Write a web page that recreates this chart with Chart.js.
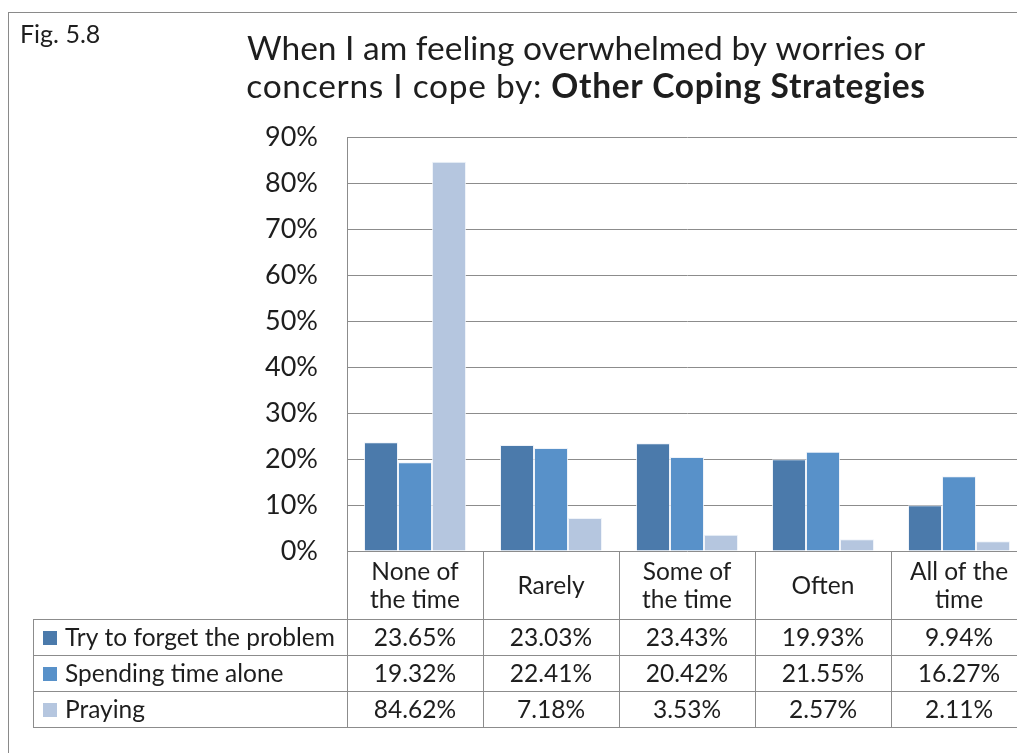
<!DOCTYPE html>
<html>
<head>
<meta charset="utf-8">
<script src="https://cdn.jsdelivr.net/npm/chart.js@4.4.0/dist/chart.umd.min.js"></script>
<style>
  html, body { margin: 0; padding: 0; background: #fff; overflow: hidden; }
  #wrap { width: 1100px; height: 753px; }
</style>
</head>
<body>
<div id="wrap"><canvas id="chart" width="1100" height="753"></canvas></div>
<script>
// Global font settings
const FONT = 'Lato, "Open Sans", sans-serif';
Chart.defaults.font.family = FONT;
Chart.defaults.color = '#222';

// Data
const CATEGORIES = [['None of', 'the time'], ['Rarely'], ['Some of', 'the time'], ['Often'], ['All of the', 'time']];
const SERIES_NAMES = ['Try to forget the problem', 'Spending time alone', 'Praying'];
const FORGET = [23.65, 23.03, 23.43, 19.93, 9.94];
const ALONE = [19.32, 22.41, 20.42, 21.55, 16.27];
const PRAYING = [84.62, 7.18, 3.53, 2.57, 2.11];
const TITLE_LINE1 = 'When I am feeling overwhelmed by worries or';
const TITLE_LINE2A = 'concerns I cope by: ';
const TITLE_LINE2B = 'Other Coping Strategies';
const FIG_LABEL = 'Fig. 5.8';

const COLORS = {
    DARK: '#4b7aab',
    MID: '#5891c9',
    LIGHT: '#b5c6df',
    GRID: '#8c8c8c',
    TEXT: '#1e1e1e'
};
const SERIES_DATA = [FORGET, ALONE, PRAYING];
const SERIES_COLORS = [COLORS.DARK, COLORS.MID, COLORS.LIGHT];

// Row positions of the data table under the plot
const TABLE = { left: 33, headerBottom: 619, rowH: 36 };
const TEXT_SIZE = 24.5;

// Plugin: frame, title and the data table
const decorations = {
    id: 'decorations',
    beforeDraw(chart) {
        const ctx = chart.ctx;
        ctx.save();
        ctx.strokeStyle = '#8a8a8a';
        ctx.lineWidth = 1;
        ctx.strokeRect(8.5, 12.5, 1400, 900);
        ctx.restore();
    },
    afterDraw(chart) {
        const ctx = chart.ctx;
        const area = chart.chartArea;
        const x = chart.scales.x;
        ctx.save();

        // Fig label
        ctx.fillStyle = COLORS.TEXT;
        ctx.textBaseline = 'alphabetic';
        ctx.textAlign = 'left';
        ctx.font = '25px ' + FONT;
        ctx.fillText(FIG_LABEL, 20, 43);

        // Title
        ctx.font = '33.5px ' + FONT;
        ctx.textAlign = 'center';
        ctx.fillText(TITLE_LINE1, 586, 60);
        ctx.textAlign = 'left';
        ctx.letterSpacing = '0.7px';  // second line is a bit wider in the original
        const wA = ctx.measureText(TITLE_LINE2A).width;
        ctx.font = 'bold 33.5px ' + FONT;
        const wB = ctx.measureText(TITLE_LINE2B).width;
        const start = 586 - (wA + wB) / 2;
        ctx.font = '33.5px ' + FONT;
        ctx.fillText(TITLE_LINE2A, start, 98);
        ctx.font = 'bold 33.5px ' + FONT;
        ctx.fillText(TITLE_LINE2B, start + wA, 98);
        ctx.letterSpacing = '0px';

        // Table lines
        const top = area.bottom;
        const rowTops = [TABLE.headerBottom];
        for (let i = 1; i <= SERIES_NAMES.length; i++) rowTops.push(TABLE.headerBottom + i * TABLE.rowH);
        const bottom = rowTops[rowTops.length - 1];
        const colW = x.getPixelForValue(1) - x.getPixelForValue(0);
        const bounds = CATEGORIES.map((c, i) => x.getPixelForValue(i) - colW / 2);
        bounds.push(x.getPixelForValue(CATEGORIES.length - 1) + colW / 2);

        ctx.strokeStyle = COLORS.GRID;
        ctx.lineWidth = 1;
        ctx.beginPath();
        rowTops.forEach(y => {
            ctx.moveTo(TABLE.left, Math.round(y) + 0.5);
            ctx.lineTo(bounds[bounds.length - 1], Math.round(y) + 0.5);
        });
        ctx.moveTo(TABLE.left + 0.5, rowTops[0]);
        ctx.lineTo(TABLE.left + 0.5, bottom);
        bounds.forEach(bx => {
            ctx.moveTo(Math.round(bx) + 0.5, top);
            ctx.lineTo(Math.round(bx) + 0.5, bottom);
        });
        ctx.stroke();

        // Header labels
        ctx.fillStyle = COLORS.TEXT;
        ctx.font = TEXT_SIZE + 'px ' + FONT;
        ctx.textAlign = 'center';
        ctx.textBaseline = 'middle';
        const headMid = (top + TABLE.headerBottom) / 2 + 1;
        CATEGORIES.forEach((lines, i) => {
            const cx = x.getPixelForValue(i);
            const lh = 28;
            lines.forEach((ln, j) => {
                ctx.fillText(ln, cx, headMid + (j - (lines.length - 1) / 2) * lh);
            });
        });

        // Rows
        SERIES_NAMES.forEach((name, r) => {
            const cy = rowTops[r] + TABLE.rowH / 2 + 1;
            ctx.fillStyle = SERIES_COLORS[r];
            ctx.fillRect(43, Math.round(cy - 7), 14, 14);
            ctx.fillStyle = COLORS.TEXT;
            ctx.textAlign = 'left';
            ctx.fillText(name, 65, cy);
            ctx.textAlign = 'center';
            SERIES_DATA[r].forEach((v, i) => {
                ctx.fillText(v.toFixed(2) + '%', x.getPixelForValue(i), cy);
            });
        });
        ctx.restore();
    }
};

new Chart(document.getElementById('chart'), {
    type: 'bar',
    data: {
        labels: CATEGORIES.map(c => c.join(' ')),
        datasets: SERIES_NAMES.map((name, i) => ({
            label: name,
            data: SERIES_DATA[i],
            backgroundColor: SERIES_COLORS[i],
            borderColor: 'rgba(235, 240, 248, 0.8)',
            borderWidth: 1,
            categoryPercentage: 0.75,
            barPercentage: 1
        }))
    },
    options: {
        responsive: false,
        animation: false,
        events: [],
        layout: { padding: { top: 137, bottom: 202, left: 0, right: 73 } },
        plugins: {
            legend: { display: false },
            title: { display: false },
            tooltip: { enabled: false }
        },
        scales: {
            x: {
                display: false
            },
            y: {
                min: 0,
                max: 90,
                afterFit(scale) { scale.width = 347; },
                ticks: {
                    stepSize: 10,
                    padding: 29,
                    color: COLORS.TEXT,
                    font: { size: 27 },
                    callback: v => v + '%'
                },
                grid: {
                    color: COLORS.GRID,
                    drawTicks: false
                },
                border: { display: true, color: COLORS.GRID }
            }
        }
    },
    plugins: [decorations]
});
</script>
</body>
</html>
